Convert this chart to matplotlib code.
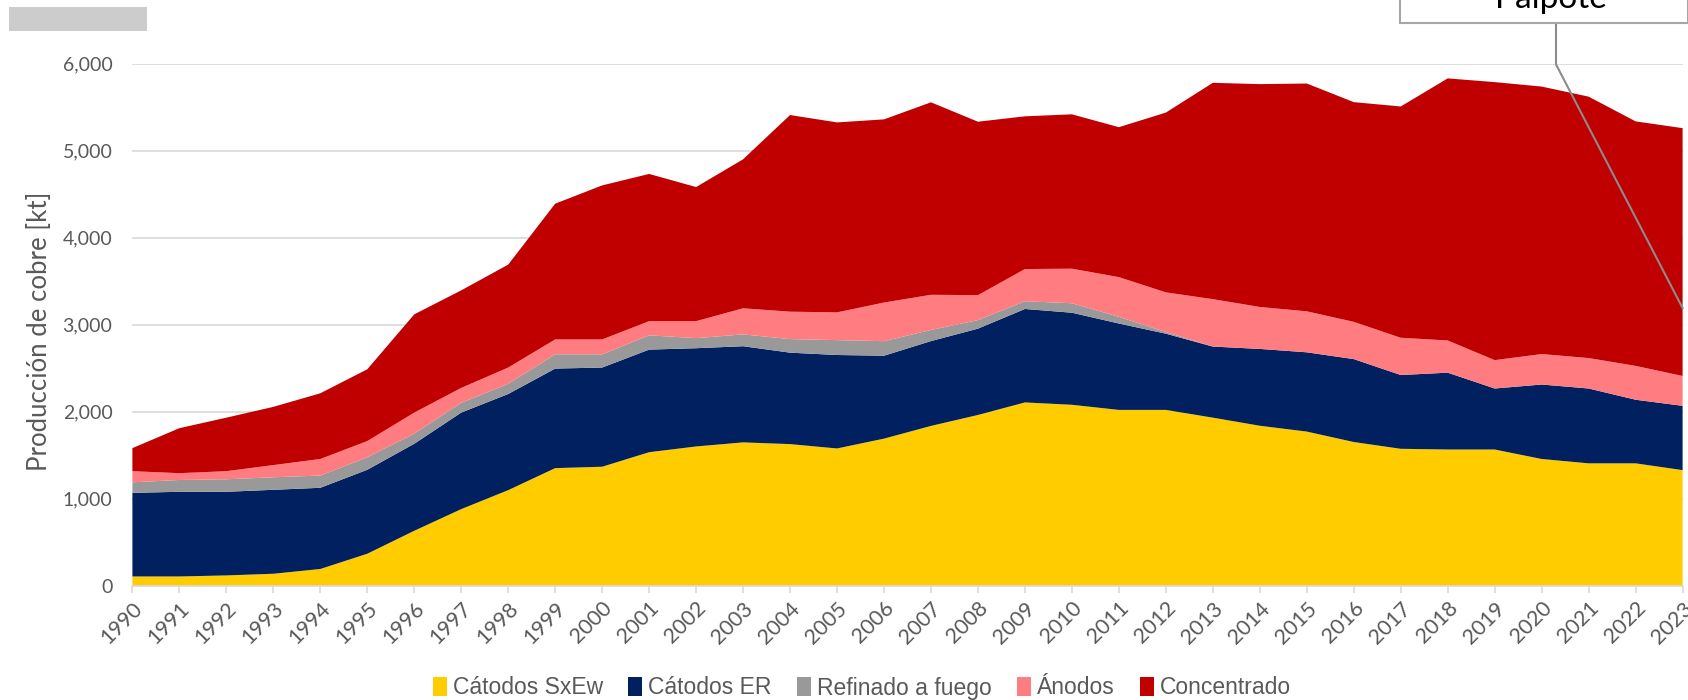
import matplotlib
matplotlib.use("Agg")
import matplotlib.pyplot as plt
from matplotlib.patches import Patch, Rectangle
from matplotlib.ticker import FuncFormatter, MultipleLocator

years = list(range(1990, 2024))

catodos_sxew = [105, 105, 117, 136, 191, 366, 630, 879, 1097, 1350,
                1366, 1533, 1599, 1646, 1626, 1576, 1689, 1835, 1961, 2105,
                2078, 2019, 2019, 1930, 1837, 1770, 1650, 1572, 1564, 1564,
                1455, 1405, 1405, 1327]
catodos_er = [961, 973, 961, 965, 933, 965, 1000, 1109, 1105, 1144,
              1140, 1179, 1129, 1105, 1051, 1074, 953, 975, 992, 1074,
              1058, 993, 876, 817, 883, 911, 953, 848, 883, 701,
              856, 860, 731, 739]
refinado_fuego = [121, 136, 144, 144, 141, 144, 117, 113, 117, 164,
                  152, 164, 116, 136, 156, 171, 167, 128, 98, 89,
                  109, 77, 19, 0, 0, 0, 0, 0, 0, 0,
                  0, 0, 0, 0]
anodos = [128, 78, 93, 140, 190, 186, 241, 171, 187, 171,
          171, 163, 195, 300, 315, 319, 444, 404, 287, 370,
          397, 456, 456, 545, 482, 471, 428, 428, 370, 326,
          350, 350, 389, 343]
concentrado = [265, 517, 615, 669, 755, 825, 1129, 1121, 1183, 1560,
               1770, 1692, 1541, 1712, 2260, 2183, 2105, 2212, 1993, 1755,
               1774, 1723, 2066, 2486, 2561, 2618, 2525, 2658, 3012, 3195,
               3074, 3004, 2810, 2848]

series_names = ["Cátodos SxEw", "Cátodos ER", "Refinado a fuego", "Ánodos", "Concentrado"]
colors = ["#FFCC00", "#002060", "#999999", "#FF7C80", "#C00000"]

annot_label = "Paipote"
annot_point = (2023, 3190)

FIG_W, FIG_H = 1688, 700
fig = plt.figure(figsize=(FIG_W / 100, FIG_H / 100), dpi=100)

ax_left, ax_right = 132.4 / FIG_W, 1682.6 / FIG_W
ax_top, ax_bottom = 1 - 63.5 / FIG_H, 1 - 585.6 / FIG_H
ax = fig.add_axes([ax_left, ax_bottom, ax_right - ax_left, ax_top - ax_bottom])

ax.stackplot(years, catodos_sxew, catodos_er, refinado_fuego, anodos, concentrado,
             colors=colors, linewidth=0, zorder=2)

ax.set_xlim(1990, 2023)
ax.set_ylim(0, 6000)
ax.yaxis.set_major_locator(MultipleLocator(1000))
ax.yaxis.set_major_formatter(FuncFormatter(lambda v, p: f"{int(v):,}"))
ax.grid(axis="y", color="#D9D9D9", linewidth=1.2, zorder=0)
ax.set_axisbelow(True)
for s in ["left", "right", "top"]:
    ax.spines[s].set_visible(False)
ax.spines["bottom"].set_color("#D9D9D9")
ax.spines["bottom"].set_linewidth(1.2)
ax.spines["bottom"].set_zorder(3)

ax.set_xticks(years)
ax.set_xticklabels([str(y) for y in years], rotation=45, ha="right",
                   rotation_mode="anchor", fontsize=15.5, color="#595959",
                   family="Lato")
ax.tick_params(axis="x", length=5, color="#D9D9D9", width=1.2, pad=4)
ax.tick_params(axis="y", length=0, pad=14.4, labelsize=14, labelcolor="#595959")
for lbl in ax.get_yticklabels():
    lbl.set_family("Lato")

ax.set_ylabel("Producción de cobre [kt]", fontsize=18.5, color="#595959",
              family="Lato")
ax.yaxis.set_label_coords((52 - 132.4) / 1550.2, (585.6 - 331) / 522.1)

# Annotation box with connector
box_left_px, box_bottom_px = 1400, 23
fig.patches.append(Rectangle((box_left_px / FIG_W, 1 - box_bottom_px / FIG_H),
                             (FIG_W - box_left_px) / FIG_W, 0.2,
                             transform=fig.transFigure, facecolor="white",
                             edgecolor="#A6A6A6", linewidth=1.5, zorder=5))
fig.text(1551 / FIG_W, 1 - 8 / FIG_H, annot_label, fontsize=24, color="#000000",
         ha="center", va="baseline", family="Lato", zorder=6)
x_knee = 1990 + (1556 - 132.4) / ((1682.6 - 132.4) / 33)
y_top_val = (585.6 - box_bottom_px) / ((585.6 - 63.5) / 6000)
ax.plot([x_knee, x_knee, annot_point[0]], [y_top_val, 5990, annot_point[1]],
        color="#8C8C8C", linewidth=1.5, clip_on=False, zorder=4)

# gray bar top-left
fig.patches.append(Rectangle((9 / FIG_W, 1 - 31 / FIG_H), 138 / FIG_W, 24 / FIG_H,
                             transform=fig.transFigure, facecolor="#CCCCCC",
                             edgecolor="none"))

handles = [Patch(facecolor=c, edgecolor="none") for c in colors]
leg = fig.legend(handles, series_names, loc="center", ncol=5,
                 bbox_to_anchor=(862 / FIG_W, 1 - 688 / FIG_H),
                 frameon=False, handlelength=0.6, handleheight=0.85,
                 handletextpad=0.27, columnspacing=1.1,
                 prop={"family": ["Liberation Sans", "DejaVu Sans"], "size": 16.5})
for t in leg.get_texts():
    t.set_color("#595959")

fig.savefig("out.png", dpi=100)
